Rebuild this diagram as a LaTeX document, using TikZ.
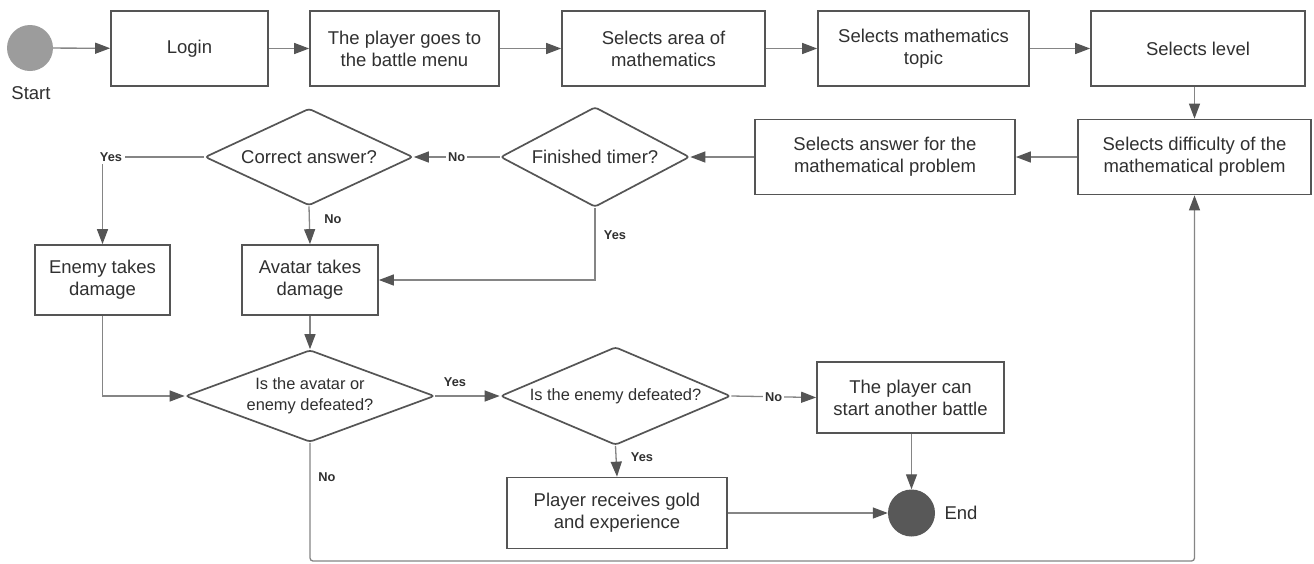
\documentclass[tikz,border=0pt]{standalone}
\usepackage{fontspec}
\setmainfont{Liberation Sans}
\usetikzlibrary{shapes.geometric,arrows.meta}
\definecolor{boxc}{HTML}{555555}
\definecolor{linec}{HTML}{858585}
\definecolor{txt}{HTML}{303030}
\definecolor{startc}{HTML}{9C9C9C}
\definecolor{endc}{HTML}{585858}
\begin{document}
\begin{tikzpicture}[x=1pt,y=-1pt,
  box/.style={draw=boxc,line width=1.7pt,rectangle,align=center,text=txt,
    font=\fontsize{18.5}{22}\selectfont,inner sep=0pt},
  dia/.style={draw=boxc,line width=1.7pt,diamond,rounded corners=3pt,inner sep=0pt,
    align=center,text=txt},
  bigtxt/.style={font=\fontsize{18.5}{22}\selectfont},
  smalltxt/.style={font=\fontsize{16.4}{21}\selectfont},
  conn/.style={draw=linec,line width=1.3pt,-{Triangle[length=15pt,width=11pt,color=boxc]}},
  lab/.style={font=\bfseries\fontsize{12.8}{14}\selectfont,text=txt,inner sep=1pt}
]
\useasboundingbox[fill=white] (0,0) rectangle (1314,563);

% top row
\node[circle,fill=startc,minimum size=46pt,inner sep=0pt] (start) at (30,48) {};
\node[bigtxt,text=txt] (startl) at (31,93) {Start};
\node[box,minimum width=157pt,minimum height=75pt] (login) at (189.5,48.5) {Login};
\node[box,minimum width=189pt,minimum height=75pt] (battle) at (404.5,48.5) {The player goes to\\the battle menu};
\node[box,minimum width=203pt,minimum height=75pt] (area) at (663.5,48.5) {Selects area of\\mathematics};
\node[box,minimum width=211pt,minimum height=75pt] (topic) at (923.5,48.5) {Selects mathematics\\topic};
\node[box,minimum width=214pt,minimum height=75pt] (level) at (1198,48.5) {Selects level};

% second row
\node[box,minimum width=233pt,minimum height=75pt] (diff) at (1194.5,157) {Selects difficulty of the\\mathematical problem};
\node[box,minimum width=260pt,minimum height=75pt] (answer) at (885,157) {Selects answer for the\\mathematical problem};
\node[dia,bigtxt,aspect=2,minimum width=189pt,minimum height=100pt] (timer) at (595,157) {Finished timer?};
\node[dia,bigtxt,aspect=2,minimum width=208pt,minimum height=97pt] (correct) at (309,157) {Correct answer?};

% third row
\node[box,minimum width=135pt,minimum height=70pt] (enemy) at (102.5,280) {Enemy takes\\damage};
\node[box,minimum width=136pt,minimum height=70pt] (avatar) at (310,280) {Avatar takes\\damage};

% fourth row
\node[dia,smalltxt,aspect=2.6,minimum width=249pt,minimum height=92pt] (defeat) at (310,396) {Is the avatar or\\enemy defeated?};
\node[dia,smalltxt,aspect=2.6,minimum width=230pt,minimum height=98pt] (enemyd) at (615.5,396) {Is the enemy defeated?};
\node[box,minimum width=187pt,minimum height=71pt] (another) at (910.5,397.5) {The player can\\start another battle};
\node[box,minimum width=220pt,minimum height=71pt] (gold) at (617,513) {Player receives gold\\and experience};
\node[circle,fill=endc,minimum size=47pt,inner sep=0pt] (end) at (911.5,513) {};
\node[bigtxt,text=txt] (endl) at (961,513) {End};

% connectors, top row
\draw[conn] (start) -- (login);
\draw[conn] (login) -- (battle);
\draw[conn] (battle) -- (area);
\draw[conn] (area) -- (topic);
\draw[conn] (topic) -- (level);
\draw[conn] (level.south -| diff.north) -- (diff.north);
\draw[conn] (diff) -- (answer);
\draw[conn] (answer) -- (timer);
\draw[conn] (timer) -- node[lab,fill=white,inner sep=2pt] (lno1) {No} (correct);

% correct answer branches
\coordinate (cy) at (enemy.north |- correct.west);
\draw[conn] (correct.west) -- (cy) -- (enemy.north);
\node[lab,fill=white,inner sep=3pt] (lyes1) at (111,157) {Yes};
\draw[conn] (correct.south) -- (avatar.north);
\node[lab] (lno2) at (333,219) {No};

% timer yes
\draw[conn] (timer.south) |- (avatar.east);
\node[lab] (lyes2) at (615,235) {Yes};

% into defeat diamond
\draw[conn] (enemy.south) |- (defeat.west);
\draw[conn] (avatar.south) -- (defeat.north);

% defeat branches
\draw[conn] (defeat.east) -- (enemyd.west);
\node[lab] (lyes3) at (455,382) {Yes};
\coordinate (b1) at (defeat.south |- 0,561);
\coordinate (b2) at (diff.south |- 0,561);
\draw[conn,rounded corners=3pt] (defeat.south) -- (b1) -- (b2) -- (diff.south);
\node[lab] (lno3) at (327,477) {No};

% enemy defeated branches
\draw[conn] (enemyd.east) -- node[lab,fill=white,inner sep=2pt] (lno4) {No} (another.west);
\draw[conn] (enemyd.south) -- (gold.north);
\node[lab] (lyes4) at (642,457) {Yes};

% to end
\draw[conn] (gold.east) -- (end.west);
\draw[conn] (another.south -| end.north) -- (end.north);
\end{tikzpicture}
\end{document}
